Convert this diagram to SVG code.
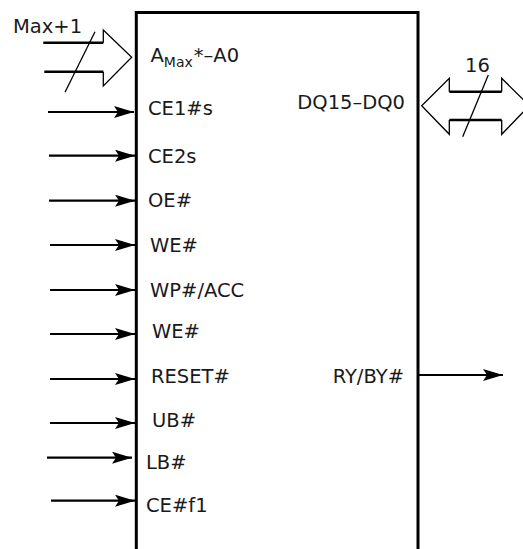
<svg xmlns="http://www.w3.org/2000/svg" width="523" height="549" viewBox="0 0 523 549">
<style>
text{font-family:"DejaVu Sans",Verdana,sans-serif;font-size:19.5px;fill:#1a1a1a}
.sig{stroke:#000;stroke-width:2.2;fill:none}
.bus{stroke:#000;stroke-width:2.4;fill:none}
.thin{stroke:#000;stroke-width:1.3;fill:none}
.box{stroke:#000;stroke-width:3;fill:none}
</style>
<defs>
<marker id="ah" markerUnits="userSpaceOnUse" markerWidth="22" markerHeight="14" refX="20" refY="6" orient="auto">
<path d="M0,0 L20,6 L0,12 L4,6 Z" fill="#000"/>
</marker>
</defs>
<g id="chip">
<path class="box" d="M136.3,549 V12.5 H418 V549"/>
<text x="150.5" y="62">A<tspan font-size="14" dy="5">Max</tspan><tspan dy="-5" dx="1">*–A0</tspan></text>
<text x="148" y="115">CE1#s</text>
<text x="148" y="163">CE2s</text>
<text x="148" y="207">OE#</text>
<text x="150" y="252">WE#</text>
<text x="150" y="297">WP#/ACC</text>
<text x="152" y="338">WE#</text>
<text x="151" y="383">RESET#</text>
<text x="152" y="427">UB#</text>
<text x="146" y="469">LB#</text>
<text x="146" y="512">CE#f1</text>
<text x="405" y="109" text-anchor="end">DQ15–DQ0</text>
<text x="404" y="383" text-anchor="end">RY/BY#</text>
</g>
<g id="addr-bus">
<path class="bus" d="M43.3,42.7 H103.3 M44.3,71.7 H103.3"/>
<path class="thin" d="M103.3,42.7 V30 L131.7,57.3 L103.3,86 V71.7"/>
<path class="thin" d="M95,31.7 L65,92.3"/>
<text x="13" y="32.5">Max+1</text>
</g>
<g id="data-bus">
<path class="bus" d="M449.3,91.7 H501.7 M449.3,120 H501.7"/>
<path class="thin" d="M449.3,91.7 V78.3 L421.7,105.7 L449.3,134.3 V120"/>
<path class="thin" d="M501.7,91.7 V78.3 L529.3,105.7 L501.7,134.3 V120"/>
<path class="thin" d="M488.3,75 L462.7,136.7"/>
<text x="465" y="71.5">16</text>
</g>
<g id="connectors">
<path class="sig" marker-end="url(#ah)" d="M48,112 H134"/>
<path class="sig" marker-end="url(#ah)" d="M49,155.7 H135"/>
<path class="sig" marker-end="url(#ah)" d="M49,200.7 H135"/>
<path class="sig" marker-end="url(#ah)" d="M50,245 H135"/>
<path class="sig" marker-end="url(#ah)" d="M50,290 H135"/>
<path class="sig" marker-end="url(#ah)" d="M50,334 H135"/>
<path class="sig" marker-end="url(#ah)" d="M50,379 H135"/>
<path class="sig" marker-end="url(#ah)" d="M50,423 H135"/>
<path class="sig" marker-end="url(#ah)" d="M47,457.7 H132"/>
<path class="sig" marker-end="url(#ah)" d="M51,500.7 H135"/>
<path class="sig" marker-end="url(#ah)" d="M418,375 H503"/>
</g>
</svg>
